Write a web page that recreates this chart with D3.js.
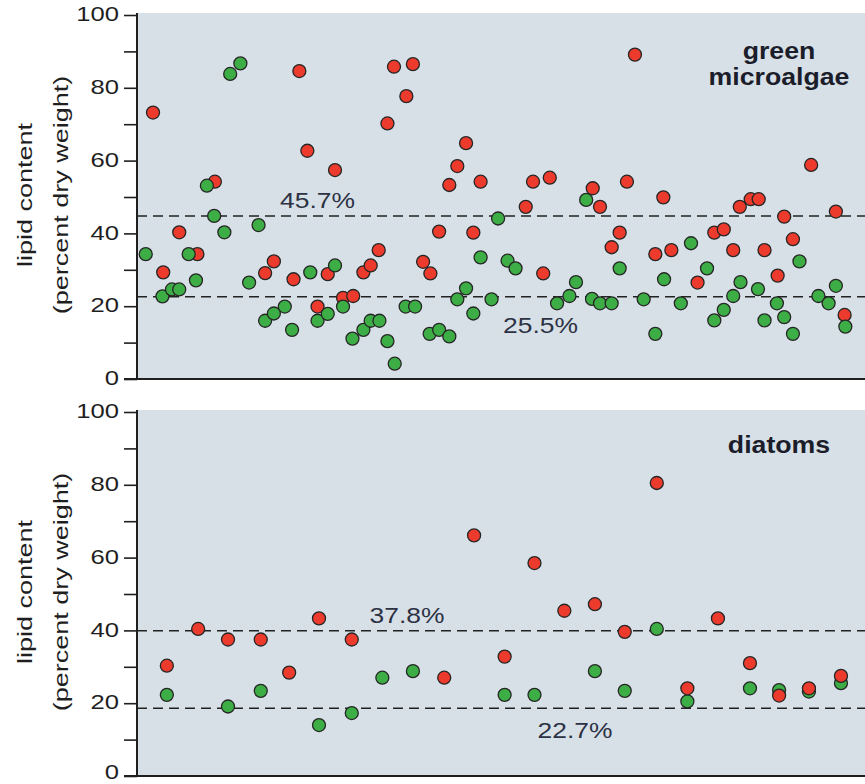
<!DOCTYPE html>
<html>
<head>
<meta charset="utf-8">
<script src="https://cdn.jsdelivr.net/npm/d3@7/dist/d3.min.js"></script>
<style>
body { margin: 0; background: #fff; }
svg { display: block; font-family: "Liberation Sans", Arial, Helvetica, sans-serif; }
</style>
</head>
<body>
<div class="svg-container"></div>
<script>
//Data
//x = position of the strain along the panel (0-100, no axis), lipid = percent dry weight

//green microalgae, red points
const algaeRedX = [2.2, 3.6, 5.8, 8.3, 10.7, 17.6, 18.8, 21.5, 22.3, 23.4, 27.2, 24.8, 26.2, 28.3, 29.7,
    31.1, 32.1, 33.2, 34.4, 35.3, 37.0, 37.9, 39.3, 40.3, 41.5, 42.9, 44.0, 45.2, 46.2, 47.2, 53.4, 54.4,
    55.8, 56.7, 62.6, 63.6, 65.2, 66.3, 68.4, 67.3, 71.2, 72.3, 73.4, 77.0, 79.3, 80.6, 81.9, 82.8, 84.3,
    85.4, 86.2, 88.0, 88.9, 90.1, 92.6, 96.0, 97.2];
const algaeRedLipid = [73.2, 29.3, 40.3, 34.3, 54.2, 29.1, 32.3, 27.4, 84.6, 62.7, 57.4, 19.9, 28.8, 22.3, 22.8,
    29.3, 31.2, 35.4, 70.2, 85.8, 77.7, 86.5, 32.2, 29.0, 40.5, 53.3, 58.5, 64.8, 40.2, 54.2, 47.3, 54.2,
    29.0, 55.3, 52.4, 47.3, 36.2, 40.2, 89.1, 54.2, 34.3, 49.9, 35.4, 26.5, 40.2, 41.1, 35.4, 47.3, 49.4,
    49.4, 35.4, 28.4, 44.6, 38.4, 58.8, 46.0, 17.6];

//green microalgae, green points
const algaeGreenX = [1.2, 3.5, 4.8, 5.8, 7.1, 8.1, 9.6, 10.6, 12.0, 12.8, 14.2, 15.4, 16.7, 17.6, 18.8, 20.3,
    21.3, 23.8, 24.8, 26.2, 27.2, 28.3, 29.6, 31.1, 32.1, 33.3, 34.4, 35.4, 36.9, 38.2, 40.2, 41.5, 42.9,
    44.0, 45.2, 46.2, 47.2, 48.7, 49.6, 50.9, 52.0, 57.7, 59.4, 60.3, 61.7, 62.5, 63.6, 65.2, 66.3, 69.6,
    71.2, 72.4, 74.7, 76.1, 78.3, 79.3, 80.6, 81.9, 82.9, 85.3, 86.2, 87.9, 88.9, 90.1, 91.0, 93.6, 95.0,
    96.0, 97.3];
const algaeGreenLipid = [34.3, 22.7, 24.6, 24.6, 34.3, 27.1, 53.1, 44.8, 40.3, 83.8, 86.7, 26.5, 42.3, 16.0,
    18.0, 19.9, 13.5, 29.3, 16.0, 17.9, 31.2, 19.9, 11.1, 13.5, 16.0, 16.0, 10.4, 4.2, 19.9, 19.9, 12.4,
    13.5, 11.7, 21.9, 24.9, 18.0, 33.4, 21.9, 44.1, 32.5, 30.4, 20.8, 22.8, 26.6, 49.2, 22.0, 20.8, 20.8,
    30.4, 21.9, 12.4, 27.4, 20.8, 37.3, 30.4, 16.1, 19.0, 22.8, 26.6, 24.7, 16.1, 20.8, 17.0, 12.4, 32.3,
    22.8, 20.8, 25.6, 14.4];

//diatoms, red points
const diatomRedX = [4.1, 8.4, 12.5, 17.0, 20.9, 25.0, 29.5, 42.2, 46.3, 50.5, 54.6, 58.7, 62.9, 67.0, 71.4,
    75.6, 79.8, 84.2, 88.2, 92.3, 96.7];
const diatomRedLipid = [30.3, 40.4, 37.5, 37.5, 28.4, 43.3, 37.5, 27.0, 66.1, 32.8, 58.5, 45.4, 47.2, 39.6,
    80.5, 24.1, 43.3, 31.0, 22.1, 24.1, 27.5];

//diatoms, green points
const diatomGreenX = [4.1, 12.5, 17.0, 25.0, 29.5, 33.7, 37.9, 50.5, 54.6, 62.9, 67.0, 71.4, 75.6, 84.2,
    88.2, 92.3, 96.7];
const diatomGreenLipid = [22.3, 19.1, 23.4, 14.0, 17.3, 27.0, 28.8, 22.3, 22.3, 28.8, 23.4, 40.4, 20.5, 24.1,
    23.6, 23.2, 25.5];

//dashed mean lines (where they are drawn) and their labels
const algaeMeanLines = [44.8, 22.6];
const algaeMeanLabels = ['45.7%', '25.5%'];
const diatomMeanLines = [39.9, 18.6];
const diatomMeanLabels = ['37.8%', '22.7%'];

const yTicks = d3.range(0, 101, 10);

//Layout
const width = 865, height = 784;
const plotLeft = 137, plotRight = 865, panelH = 364;
const colors = { red: '#ec3b2c', green: '#3dae45', outline: '#262626', bg: '#d7e0e7', ink: '#1f1f1f', note: '#2c3244' };

const svg = d3.select('.svg-container')
    .append('svg')
    .attr('width', width)
    .attr('height', height);

//widen text a bit, the original font runs wider than Arial
function stretch(sel, k) {
    sel.each(function () {
        const w = this.getComputedTextLength();
        d3.select(this).attr('textLength', w * k).attr('lengthAdjust', 'spacingAndGlyphs');
    });
}

const xScale = d3.scaleLinear().domain([0, 100]).range([plotLeft, plotRight]);

function drawPanel(cfg) {
    const yScale = d3.scaleLinear().domain([0, 100]).range([cfg.top + panelH, cfg.top]);
    const g = svg.append('g').attr('class', 'panel');

    //background
    g.append('rect')
        .attr('x', plotLeft)
        .attr('y', cfg.top - 2)
        .attr('width', plotRight - plotLeft)
        .attr('height', panelH + 2)
        .attr('fill', colors.bg);

    //dashed means
    g.append('g')
        .selectAll('line')
        .data(cfg.means)
        .enter()
        .append('line')
        .attr('x1', plotLeft)
        .attr('x2', plotRight)
        .attr('y1', d => yScale(d))
        .attr('y2', d => yScale(d))
        .attr('stroke', '#222')
        .attr('stroke-width', 1.6)
        .attr('stroke-dasharray', '10,6');

    const notes = g.append('g')
        .selectAll('text')
        .data(cfg.meanLabels)
        .enter()
        .append('text')
        .attr('x', (d, i) => cfg.noteX[i])
        .attr('y', (d, i) => yScale(cfg.means[i]) + cfg.noteDy[i])
        .attr('text-anchor', 'middle')
        .attr('font-size', 22)
        .attr('fill', colors.note)
        .text(d => d);
    stretch(notes, 1.2);

    //points
    const drawPoints = (xs, ys, fill) => {
        g.append('g')
            .selectAll('circle')
            .data(xs.map((x, i) => ({ x: x, v: ys[i] })))
            .enter()
            .append('circle')
            .attr('cx', d => xScale(d.x))
            .attr('cy', d => yScale(d.v))
            .attr('r', 6.5)
            .attr('fill', fill)
            .attr('stroke', colors.outline)
            .attr('stroke-width', 1.3);
    };
    cfg.order.forEach(s => drawPoints(s.x, s.y, s.fill));

    //title
    const title = g.append('text')
        .attr('x', cfg.titleX)
        .attr('y', cfg.top + cfg.titleDy)
        .attr('text-anchor', 'middle')
        .attr('font-size', 23)
        .attr('font-weight', 'bold')
        .attr('fill', '#1b1d2a');
    cfg.title.forEach((t, i) => {
        title.append('tspan').attr('x', cfg.titleX).attr('dy', i === 0 ? 0 : 26).text(t);
    });
    stretch(title.selectAll('tspan'), 1.16);

    //y axis
    const yAxis = d3.axisLeft(yScale)
        .tickValues(yTicks)
        .tickSize(13)
        .tickSizeOuter(0)
        .tickPadding(5)
        .tickFormat(d => (d % 20 === 0 ? d : ''));
    const yAxisDraw = g.append('g')
        .attr('class', 'y axis')
        .attr('transform', `translate(${plotLeft}, 0)`)
        .call(yAxis);
    yAxisDraw.select('.domain').remove();
    yAxisDraw.selectAll('.tick line').attr('stroke', colors.ink).attr('stroke-width', 1.6);
    yAxisDraw.selectAll('.tick text')
        .attr('dy', d => (d === 0 && cfg.zeroDy) ? cfg.zeroDy : '0.27em')
        .attr('font-size', 21)
        .attr('font-family', '"Liberation Sans", Arial, sans-serif')
        .attr('fill', colors.ink);
    stretch(yAxisDraw.selectAll('.tick text'), 1.22);

    //spines
    g.append('line')
        .attr('x1', plotLeft).attr('x2', plotLeft)
        .attr('y1', cfg.top - 2).attr('y2', yScale(0))
        .attr('stroke', colors.ink).attr('stroke-width', 2);
    g.append('line')
        .attr('x1', plotLeft - 13).attr('x2', plotRight)
        .attr('y1', yScale(0)).attr('y2', yScale(0))
        .attr('stroke', colors.ink).attr('stroke-width', 2);

    //y label
    const mid = cfg.top + panelH / 2 - 2;
    const ylab = g.append('g').attr('class', 'ylabel');
    [['lipid content', 32], ['(percent dry weight)', 67.5]].forEach(([t, x]) => {
        ylab.append('text')
            .attr('transform', `translate(${x}, ${mid}) rotate(-90)`)
            .attr('text-anchor', 'middle')
            .attr('font-size', 20)
            .attr('fill', colors.ink)
            .text(t);
    });
    stretch(ylab.selectAll('text'), 1.35);
}

drawPanel({
    top: 15,
    means: algaeMeanLines,
    meanLabels: algaeMeanLabels,
    noteX: [317.5, 540.5],
    noteDy: [-8, 36.5],
    title: ['green', 'microalgae'],
    titleX: 779,
    titleDy: 44,
    order: [
        { x: algaeRedX, y: algaeRedLipid, fill: colors.red },
        { x: algaeGreenX, y: algaeGreenLipid, fill: colors.green }
    ]
});

drawPanel({
    top: 412,
    zeroDy: '0.12em',
    means: diatomMeanLines,
    meanLabels: diatomMeanLabels,
    noteX: [407, 575],
    noteDy: [-7.5, 30],
    title: ['diatoms'],
    titleX: 779,
    titleDy: 40.5,
    order: [
        { x: diatomGreenX, y: diatomGreenLipid, fill: colors.green },
        { x: diatomRedX, y: diatomRedLipid, fill: colors.red }
    ]
});
</script>
</body>
</html>
